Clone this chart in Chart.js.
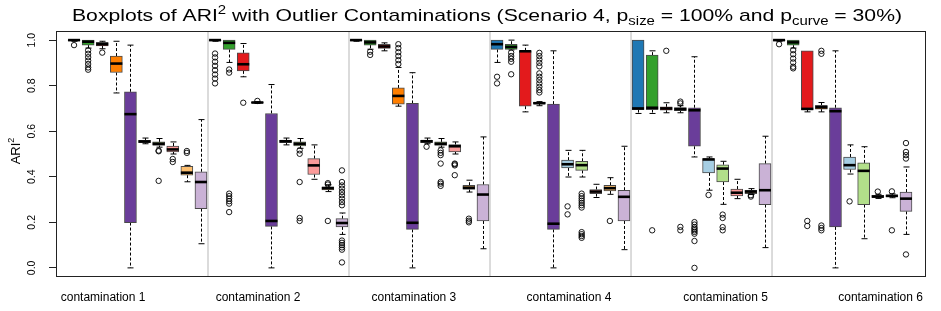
<!DOCTYPE html>
<html>
<head>
<meta charset="utf-8">
<script src="https://cdn.jsdelivr.net/npm/chart.js@4.4.1/dist/chart.umd.min.js"></script>
<style>
  html, body { margin: 0; padding: 0; background: #fff; }
  #wrap { width: 941px; height: 311px; position: relative; }
</style>
</head>
<body>
<div id="wrap"><canvas id="boxChart"></canvas></div>
<script>
const group_labels = ["contamination 1", "contamination 2", "contamination 3",
                      "contamination 4", "contamination 5", "contamination 6"];
const method_colors = ["#1F78B4", "#33A02C", "#E31A1C", "#FF7F00", "#6A3D9A",
                       "#A6CEE3", "#B2DF8A", "#FB9A99", "#FDBF6F", "#CAB2D6"];
const y_ticks = [0, 0.2, 0.4, 0.6, 0.8, 1.0];

// each row: [lower whisker, q1, median, q3, upper whisker]
const stats_c1 = [
  [0.995, 0.997, 1.0, 1.0, 1.0], [0.965, 0.978, 0.993, 1.0, 1.0], [0.962, 0.974, 0.982, 0.99, 0.995],
  [0.768, 0.858, 0.897, 0.93, 0.995], [0.0, 0.199, 0.675, 0.773, 0.978], [0.545, 0.55, 0.555, 0.56, 0.57],
  [0.53, 0.538, 0.545, 0.553, 0.568], [0.5, 0.509, 0.52, 0.535, 0.553], [0.378, 0.407, 0.418, 0.446, 0.45],
  [0.106, 0.26, 0.377, 0.422, 0.651]
];
const out_c1 = [[0.978], [0.955, 0.94, 0.925, 0.91, 0.895, 0.88, 0.87], [0.945], [], [], [],
  [0.515, 0.512, 0.382], [0.478, 0.465], [0.513, 0.505], []];

const stats_c2 = [
  [0.995, 0.997, 1.0, 1.0, 1.0], [0.902, 0.959, 0.988, 1.0, 1.0], [0.839, 0.865, 0.894, 0.944, 0.985],
  [0.722, 0.724, 0.726, 0.728, 0.73], [0.0, 0.182, 0.206, 0.678, 0.805], [0.54, 0.55, 0.556, 0.56, 0.57],
  [0.525, 0.536, 0.545, 0.553, 0.568], [0.389, 0.41, 0.45, 0.48, 0.54], [0.335, 0.342, 0.35, 0.356, 0.365],
  [0.147, 0.18, 0.197, 0.216, 0.241]
];
const out_c2 = [[0.941, 0.924, 0.905, 0.887, 0.868, 0.849, 0.831, 0.81],
  [0.871, 0.857, 0.326, 0.315, 0.304, 0.293, 0.282, 0.245], [0.725], [0.733], [], [],
  [0.516, 0.501, 0.377, 0.219, 0.206], [], [0.372, 0.366, 0.206],
  [0.428, 0.377, 0.362, 0.348, 0.333, 0.319, 0.304, 0.289, 0.275, 0.12, 0.11, 0.1, 0.09, 0.08, 0.024]];

const stats_c3 = [
  [0.995, 0.997, 1.0, 1.0, 1.0], [0.96, 0.978, 0.99, 1.0, 1.0], [0.953, 0.963, 0.972, 0.981, 0.988],
  [0.71, 0.719, 0.755, 0.79, 0.88], [0.0, 0.169, 0.198, 0.722, 0.857], [0.545, 0.55, 0.556, 0.56, 0.57],
  [0.53, 0.538, 0.545, 0.553, 0.568], [0.5, 0.509, 0.534, 0.541, 0.553], [0.333, 0.344, 0.352, 0.363, 0.385],
  [0.084, 0.206, 0.322, 0.366, 0.575]
];
const out_c3 = [[], [0.949, 0.935], [], [0.982, 0.965, 0.947, 0.93, 0.912, 0.895], [], [0.532],
  [0.516, 0.505, 0.495, 0.458, 0.377, 0.37, 0.36], [0.458, 0.455, 0.45, 0.407], [0.216, 0.207, 0.2], []];

const stats_c4 = [
  [0.902, 0.959, 0.982, 1.0, 1.0], [0.957, 0.959, 0.97, 0.982, 1.0], [0.685, 0.71, 0.951, 0.953, 0.978],
  [0.712, 0.72, 0.723, 0.727, 0.73], [0.0, 0.169, 0.194, 0.719, 0.953], [0.399, 0.439, 0.455, 0.473, 0.516],
  [0.399, 0.428, 0.451, 0.468, 0.516], [0.309, 0.326, 0.335, 0.344, 0.367], [0.323, 0.338, 0.35, 0.363, 0.396],
  [0.08, 0.206, 0.312, 0.341, 0.534]
];
const out_c4 = [[0.839, 0.81], [0.945, 0.93, 0.918, 0.905, 0.85], [],
  [0.944, 0.93, 0.915, 0.9, 0.885, 0.854, 0.839, 0.825, 0.81, 0.795, 0.781, 0.77], [], [0.27, 0.235],
  [0.326, 0.315, 0.305, 0.295, 0.285, 0.275, 0.265, 0.157, 0.148, 0.14, 0.132], [], [0.206], []];

const stats_c5 = [
  [0.678, 0.695, 0.7, 1.0, 1.0], [0.678, 0.695, 0.703, 0.934, 0.953], [0.681, 0.692, 0.7, 0.707, 0.725],
  [0.681, 0.69, 0.697, 0.704, 0.712], [0.487, 0.534, 0.692, 0.703, 0.927], [0.341, 0.417, 0.476, 0.48, 0.487],
  [0.279, 0.377, 0.436, 0.453, 0.468], [0.304, 0.316, 0.33, 0.346, 0.389], [0.322, 0.326, 0.335, 0.341, 0.348],
  [0.089, 0.278, 0.341, 0.458, 0.578]
];
const out_c5 = [[], [0.165], [0.953], [0.73, 0.722, 0.18, 0.165],
  [0.201, 0.19, 0.179, 0.172, 0.165, 0.158, 0.15, 0.118, 0.0], [0.32], [0.234, 0.219, 0.179, 0.165], [],
  [0.319, 0.313], []];

const stats_c6 = [
  [0.995, 0.997, 1.0, 1.0, 1.0], [0.965, 0.978, 0.99, 1.0, 1.0], [0.685, 0.695, 0.698, 0.953, 0.953],
  [0.685, 0.697, 0.705, 0.714, 0.726], [0.0, 0.18, 0.688, 0.703, 0.953], [0.412, 0.432, 0.451, 0.487, 0.54],
  [0.128, 0.278, 0.426, 0.461, 0.532], [0.305, 0.309, 0.313, 0.319, 0.323], [0.308, 0.313, 0.316, 0.321, 0.325],
  [0.147, 0.248, 0.304, 0.333, 0.443]
];
const out_c6 = [[0.982], [0.956, 0.938, 0.919, 0.902, 0.883, 0.876], [0.206, 0.184], [0.953, 0.94, 0.186, 0.175, 0.165],
  [], [0.292], [], [0.335], [0.336, 0.165], [0.548, 0.509, 0.495, 0.48, 0.059]];

const all_stats = [stats_c1, stats_c2, stats_c3, stats_c4, stats_c5, stats_c6];
const all_out = [out_c1, out_c2, out_c3, out_c4, out_c5, out_c6];

// flatten into box positions 1..60
const boxes = [];
const box_colors = [];
const outlier_points = [];
all_stats.forEach((grp, g) => {
  grp.forEach((s, k) => {
    const pos = g * 10 + k + 1;
    boxes.push({ x: pos, y: [s[1], s[3]], s: s });
    box_colors.push(method_colors[k]);
    all_out[g][k].forEach(v => outlier_points.push({ x: pos, y: v }));
  });
});

const label_pos = [3.06, 14.05, 25.1, 36.1, 47.2, 58.2];
const separators = [10.5, 20.5, 30.5, 40.5, 50.5];
const FONT = "'Liberation Sans', Arial, Helvetica, sans-serif";

function line(ctx, x1, y1, x2, y2) {
  ctx.beginPath();
  ctx.moveTo(x1, y1);
  ctx.lineTo(x2, y2);
  ctx.stroke();
}

const boxplot_extras = {
  id: 'boxplot_extras',
  beforeDatasetsDraw(chart) {
    const { ctx, chartArea, scales: { x, y } } = chart;
    ctx.save();
    // group separators
    ctx.strokeStyle = '#c8c8c8';
    ctx.lineWidth = 1.3;
    separators.forEach(v => {
      const px = x.getPixelForValue(v);
      line(ctx, px, chartArea.top, px, chartArea.bottom);
    });
    // whiskers + staples
    ctx.strokeStyle = '#000';
    ctx.lineWidth = 1;
    boxes.forEach(b => {
      const px = Math.round(x.getPixelForValue(b.x)) + 0.5;
      const s = b.s;
      ctx.setLineDash([3, 2]);
      if (s[1] > s[0]) line(ctx, px, y.getPixelForValue(s[1]), px, y.getPixelForValue(s[0]));
      if (s[4] > s[3]) line(ctx, px, y.getPixelForValue(s[3]), px, y.getPixelForValue(s[4]));
      ctx.setLineDash([]);
      if (s[1] > s[0]) line(ctx, px - 3, y.getPixelForValue(s[0]), px + 3, y.getPixelForValue(s[0]));
      if (s[4] > s[3]) line(ctx, px - 3, y.getPixelForValue(s[4]), px + 3, y.getPixelForValue(s[4]));
    });
    ctx.restore();
  },
  afterDatasetsDraw(chart) {
    const { ctx, scales: { x, y } } = chart;
    ctx.save();
    ctx.strokeStyle = '#000';
    ctx.lineWidth = 2.6;
    boxes.forEach(b => {
      const px = x.getPixelForValue(b.x);
      const py = y.getPixelForValue(b.s[2]);
      line(ctx, px - 6, py, px + 6, py);
    });
    ctx.restore();
  },
  afterDraw(chart) {
    const { ctx, chartArea, scales: { y } } = chart;
    ctx.save();
    // frame
    ctx.strokeStyle = '#222';
    ctx.lineWidth = 1;
    ctx.strokeRect(chartArea.left + 0.5, chartArea.top + 0.5,
                   chartArea.right - chartArea.left - 1, chartArea.bottom - chartArea.top - 1);

    // y tick labels, rotated like R
    ctx.fillStyle = '#000';
    ctx.font = '10.5px ' + FONT;
    ctx.textAlign = 'center';
    ctx.textBaseline = 'middle';
    y_ticks.forEach(v => {
      ctx.save();
      ctx.translate(32, y.getPixelForValue(v));
      ctx.rotate(-Math.PI / 2);
      ctx.fillText(v.toFixed(1), 0, 0);
      ctx.restore();
    });

    // y axis title ARI^2
    ctx.save();
    ctx.translate(15, 151);
    ctx.rotate(-Math.PI / 2);
    ctx.textBaseline = 'alphabetic';
    ctx.textAlign = 'left';
    ctx.font = '13px ' + FONT;
    const wA = ctx.measureText('ARI').width;
    ctx.font = '9px ' + FONT;
    const w2 = ctx.measureText('2').width;
    const x0 = -(wA + w2) / 2;
    ctx.font = '13px ' + FONT;
    ctx.fillText('ARI', x0, 5);
    ctx.font = '9px ' + FONT;
    ctx.fillText('2', x0 + wA, -1);
    ctx.restore();

    // title with super/subscripts
    const parts = [
      ['Boxplots of ARI', 0], ['2', 1], [' with Outlier Contaminations (Scenario 4, p', 0],
      ['size', -1], [' = 100% and p', 0], ['curve', -1], [' = 30%)', 0]
    ];
    const fontFor = t => (t === 0 ? '17px ' : '12px ') + FONT;
    let total = 0;
    parts.forEach(p => { ctx.font = fontFor(p[1]); total += ctx.measureText(p[0]).width; });
    const target = 830;
    const sx = target / total;
    ctx.save();
    ctx.translate(487 - target / 2, 20.5);
    ctx.scale(sx, 1);
    ctx.textAlign = 'left';
    ctx.textBaseline = 'alphabetic';
    let cx = 0;
    parts.forEach(p => {
      ctx.font = fontFor(p[1]);
      const dy = p[1] === 1 ? -7 : (p[1] === -1 ? 4 : 0);
      ctx.fillText(p[0], cx, dy);
      cx += ctx.measureText(p[0]).width;
    });
    ctx.restore();
    ctx.restore();
  }
};

const ctx = document.getElementById('boxChart').getContext('2d');
new Chart(ctx, {
  type: 'bar',
  data: {
    datasets: [{
      label: 'outliers',
      type: 'scatter',
      data: outlier_points,
      pointStyle: 'circle',
      pointRadius: 2.7,
      pointBorderWidth: 0.9,
      pointBorderColor: '#000',
      pointBackgroundColor: 'rgba(0,0,0,0)',
      showLine: false
    }, {
      label: 'boxes',
      data: boxes,
      backgroundColor: box_colors,
      borderColor: '#4a4a4a',
      borderWidth: 1,
      borderSkipped: false,
      barThickness: 12,
      grouped: false
    }]
  },
  options: {
    responsive: true,
    maintainAspectRatio: false,
    animation: false,
    layout: { padding: { top: 31, right: 15, left: 0, bottom: 0 } },
    plugins: {
      legend: { display: false },
      tooltip: { enabled: false },
      title: { display: false }
    },
    scales: {
      x: {
        type: 'linear',
        min: -0.28,
        max: 61.42,
        offset: false,
        grid: { display: false, drawTicks: false, offset: false },
        border: { display: false },
        afterBuildTicks: scale => { scale.ticks = label_pos.map(v => ({ value: v })); },
        afterFit: scale => { scale.height = 34; },
        ticks: {
          autoSkip: false,
          maxRotation: 0,
          padding: 13,
          color: '#000',
          font: { family: FONT, size: 12 },
          callback: (v, i) => group_labels[i]
        }
      },
      y: {
        min: -0.04,
        max: 1.04,
        afterBuildTicks: scale => { scale.ticks = y_ticks.map(v => ({ value: v })); },
        afterFit: scale => { scale.width = 56; },
        grid: { drawOnChartArea: false, drawTicks: true, tickLength: 7, color: '#222' },
        border: { display: false },
        ticks: { display: false }
      }
    }
  },
  plugins: [boxplot_extras]
});
</script>
</body>
</html>
